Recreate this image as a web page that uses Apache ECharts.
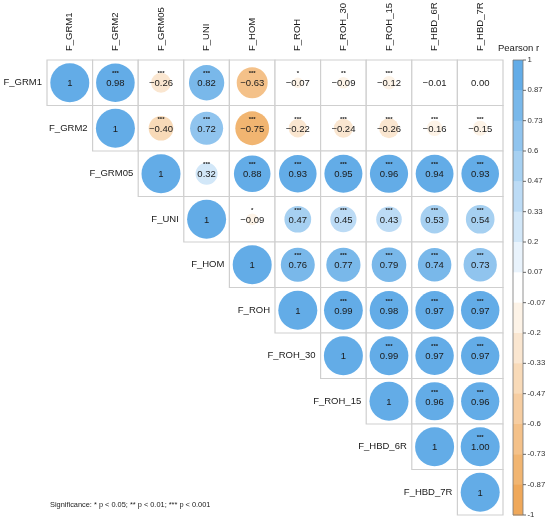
<!DOCTYPE html>
<html style="height: 100%">
<head>
    <meta charset="UTF-8">
    <title>Pearson correlation matrix</title>
    <script src="https://cdn.jsdelivr.net/npm/echarts@6/dist/echarts.min.js"></script>
</head>
<body style="height: 100%; margin: 0; background: #fff">
<div id="container" style="width: 550px; height: 524px"></div>
<script type="text/javascript">
    // variable names (rows and columns)
    var vars = ['F_GRM1', 'F_GRM2', 'F_GRM05', 'F_UNI', 'F_HOM', 'F_ROH', 'F_ROH_30', 'F_ROH_15', 'F_HBD_6R', 'F_HBD_7R'];

    // upper triangle of the correlation matrix, one array per row (starting at the diagonal)
    var rGRM1   = [1, 0.98, -0.26, 0.82, -0.63, -0.07, -0.09, -0.12, -0.01, 0.00];
    var rGRM2   = [1, -0.40, 0.72, -0.75, -0.22, -0.24, -0.26, -0.16, -0.15];
    var rGRM05  = [1, 0.32, 0.88, 0.93, 0.95, 0.96, 0.94, 0.93];
    var rUNI    = [1, -0.09, 0.47, 0.45, 0.43, 0.53, 0.54];
    var rHOM    = [1, 0.76, 0.77, 0.79, 0.74, 0.73];
    var rROH    = [1, 0.99, 0.98, 0.97, 0.97];
    var rROH30  = [1, 0.99, 0.97, 0.97];
    var rROH15  = [1, 0.96, 0.96];
    var rHBD6R  = [1, 1.00];
    var rHBD7R  = [1];

    // significance stars, same layout
    var sGRM1   = ['', '***', '***', '***', '***', '*', '**', '***', '', ''];
    var sGRM2   = ['', '***', '***', '***', '***', '***', '***', '***', '***'];
    var sGRM05  = ['', '***', '***', '***', '***', '***', '***', '***'];
    var sUNI    = ['', '*', '***', '***', '***', '***', '***'];
    var sHOM    = ['', '***', '***', '***', '***', '***'];
    var sROH    = ['', '***', '***', '***', '***'];
    var sROH30  = ['', '***', '***', '***'];
    var sROH15  = ['', '***', '***'];
    var sHBD6R  = ['', '***'];
    var sHBD7R  = [''];

    // colour bar tick labels
    var barTicks = ['1', '0.87', '0.73', '0.6', '0.47', '0.33', '0.2', '0.07', '-0.07', '-0.2', '-0.33', '-0.47', '-0.6', '-0.73', '-0.87', '-1'];

    var rows = [rGRM1, rGRM2, rGRM05, rUNI, rHOM, rROH, rROH30, rROH15, rHBD6R, rHBD7R];
    var starRows = [sGRM1, sGRM2, sGRM05, sUNI, sHOM, sROH, sROH30, sROH15, sHBD6R, sHBD7R];

    var FONT = '"Liberation Sans", Arial, sans-serif';
    var GRID = {left: 47, top: 60, width: 456, height: 455};
    var NBIN = 15;
    var BLUE = [88, 166, 229];
    var ORANGE = [238, 162, 78];

    function binColor(center) {
        var end = center >= 0 ? BLUE : ORANGE;
        var t = Math.abs(center);
        var c = end.map(function (e) { return Math.round(255 + (e - 255) * t); });
        return 'rgb(' + c.join(',') + ')';
    }

    function colorFor(v) {
        var step = 2 / NBIN;
        var idx = Math.min(NBIN - 1, Math.max(0, Math.floor((1 - v) / step)));
        return binColor(1 - (idx + 0.5) * step);
    }

    function fmt(v) {
        var s = Math.abs(v).toFixed(2);
        return v < 0 ? '\u2212' + s : s;
    }

    var items = [];
    var stars = [];
    rows.forEach(function (row, i) {
        row.forEach(function (v, k) {
            items.push([i + k, i, v]);
            stars.push(starRows[i][k]);
        });
    });

    function renderItem(params, api) {
        var col = api.value(0), row = api.value(1), v = api.value(2);
        var p = api.coord([col, row]);
        var s = api.size([1, 1]);
        var w = s[0], h = s[1];
        var diag = col === row;
        var d = Math.min(39, 39 * Math.sqrt(Math.abs(v)));
        var children = [
            {
                type: 'rect',
                shape: {x: p[0] - w / 2, y: p[1] - h / 2, width: w, height: h},
                style: {fill: '#fff', stroke: '#cfcfcf', lineWidth: 1.2}
            },
            {
                type: 'circle',
                shape: {cx: p[0], cy: p[1], r: d / 2},
                style: {fill: colorFor(v)}
            },
            {
                type: 'text',
                x: p[0], y: p[1] + 1,
                style: {
                    text: diag ? '1' : fmt(v), fill: '#1a1a1a', font: '9.5px ' + FONT,
                    align: 'center', verticalAlign: 'middle'
                }
            }
        ];
        var st = stars[params.dataIndex];
        if (st) {
            children.push({
                type: 'text',
                x: p[0], y: p[1] - 9,
                style: {
                    text: st, fill: '#1a1a1a', font: 'bold 6px ' + FONT,
                    align: 'center', verticalAlign: 'middle'
                }
            });
        }
        if (diag) {
            children.push({
                type: 'text',
                x: p[0] - w / 2 - 5, y: p[1],
                style: {
                    text: vars[row], fill: '#1a1a1a', font: '9.5px ' + FONT,
                    align: 'right', verticalAlign: 'middle'
                }
            });
        }
        if (row === 0) {
            children.push({
                type: 'text',
                x: p[0], y: p[1] - h / 2 - 9,
                rotation: Math.PI / 2,
                style: {
                    text: vars[col], fill: '#1a1a1a', font: '9.5px ' + FONT,
                    align: 'left', verticalAlign: 'middle'
                }
            });
        }
        return {type: 'group', children: children};
    }

    // colour bar legend
    var barX = 513, barW = 10, barTop = GRID.top, barH = GRID.height;
    var graphics = [];
    for (var b = 0; b < NBIN; b++) {
        var center = 1 - (b + 0.5) * 2 / NBIN;
        graphics.push({
            type: 'rect', silent: true,
            shape: {x: barX, y: barTop + b * barH / NBIN, width: barW, height: barH / NBIN + 0.5},
            style: {fill: binColor(center)}
        });
    }
    graphics.push({
        type: 'rect', silent: true,
        shape: {x: barX, y: barTop, width: barW, height: barH},
        style: {fill: 'none', stroke: '#777', lineWidth: 0.8}
    });
    barTicks.forEach(function (t, i) {
        var y = barTop + i * barH / NBIN;
        graphics.push({
            type: 'line', silent: true,
            shape: {x1: barX + barW, y1: y, x2: barX + barW + 3, y2: y},
            style: {stroke: '#444', lineWidth: 0.8}
        });
        graphics.push({
            type: 'text', silent: true,
            x: barX + barW + 4.5, y: y,
            style: {text: t, fill: '#333', font: '7.8px ' + FONT, verticalAlign: 'middle'}
        });
    });
    graphics.push({
        type: 'text', silent: true,
        x: 498, y: 48,
        style: {text: 'Pearson r', fill: '#1a1a1a', font: '9.5px ' + FONT, verticalAlign: 'middle'}
    });
    graphics.push({
        type: 'text', silent: true,
        x: 50, y: 505,
        style: {text: 'Significance: * p < 0.05; ** p < 0.01; *** p < 0.001', fill: '#1a1a1a',
            font: '7.4px ' + FONT, verticalAlign: 'middle'}
    });

    var myChart = echarts.init(document.getElementById('container'));
    var option = {
        animation: false,
        grid: GRID,
        xAxis: {
            type: 'category',
            data: vars,
            position: 'top',
            show: false
        },
        yAxis: {
            type: 'category',
            data: vars,
            inverse: true,
            show: false
        },
        series: [{
            type: 'custom',
            renderItem: renderItem,
            data: items
        }],
        graphic: graphics
    };
    myChart.setOption(option);
</script>
</body>
</html>
